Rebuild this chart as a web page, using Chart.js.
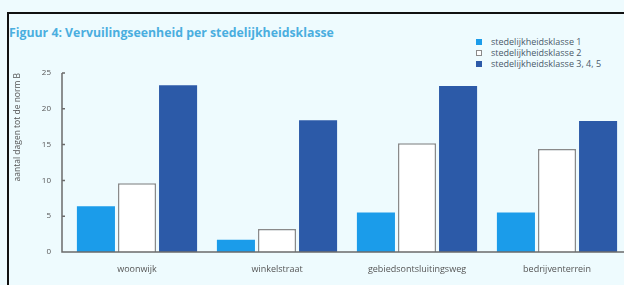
<!DOCTYPE html>
<html>
<head>
<meta charset="utf-8">
<script src="https://cdn.jsdelivr.net/npm/chart.js@4/dist/chart.umd.min.js"></script>
<style>
  html, body { margin: 0; padding: 0; width: 624px; height: 285px; overflow: hidden; background: #eefbfe; font-family: "Open Sans", "Noto Sans", sans-serif; }
  #frame { position: absolute; left: 7px; top: 12px; width: 700px; height: 400px; border-left: 2px solid #111; border-top: 2px solid #111; }
  #title { position: absolute; left: 9px; top: 24px; font-size: 12.3px; font-weight: bold; color: #4aaedf; white-space: nowrap; }
  #legend { position: absolute; left: 476px; top: 36px; font-size: 9px; color: #4a5a6a; }
  #legend div { height: 11px; line-height: 11px; white-space: nowrap; }
  #legend span { display: inline-block; width: 6px; height: 6px; margin-right: 9px; vertical-align: 0px; box-sizing: border-box; }
  #wrap { position: absolute; left: 0; top: 0; width: 640px; height: 285px; }
</style>
</head>
<body>
<div id="frame"></div>
<div id="title">Figuur 4: Vervuilingseenheid per stedelijkheidsklasse</div>
<div id="legend"></div>
<div id="wrap"><canvas id="chart"></canvas></div>
<script>
var categories = ['woonwijk', 'winkelstraat', 'gebiedsontsluitingsweg', 'bedrijventerrein'];
var seriesNames = ['stedelijkheidsklasse 1', 'stedelijkheidsklasse 2', 'stedelijkheidsklasse 3, 4, 5'];
var klasse1 = [6.4, 1.7, 5.5, 5.5];
var klasse2 = [9.6, 3.2, 15.2, 14.4];
var klasse345 = [23.3, 18.4, 23.2, 18.3];
var yTicks = [0, 5, 10, 15, 20, 25];

var fills = ['#1b9cea', '#ffffff', '#2c5aa8'];
var borders = ['#1b9cea', '#8a8a8a', '#2c5aa8'];

// legend
var legend = document.getElementById('legend');
seriesNames.forEach(function (name, i) {
    var row = document.createElement('div');
    var box = document.createElement('span');
    box.style.background = fills[i];
    box.style.border = '1px solid ' + borders[i];
    row.appendChild(box);
    row.appendChild(document.createTextNode(name));
    legend.appendChild(row);
});

// axis lines drawn slightly left of the plot, like the original
var axisLines = {
    id: 'axisLines',
    afterDatasetsDraw: function (chart) {
        var ctx = chart.ctx, a = chart.chartArea, y = chart.scales.y;
        var x0 = a.left - 5;
        ctx.save();
        ctx.strokeStyle = '#6b6b6b';
        ctx.lineWidth = 1.5;
        ctx.beginPath();
        ctx.moveTo(x0, a.top);
        ctx.lineTo(x0, a.bottom);
        ctx.lineTo(a.right + 20, a.bottom);
        yTicks.forEach(function (t) {
            var py = y.getPixelForValue(t);
            ctx.moveTo(x0, py);
            ctx.lineTo(x0 + 3, py);
        });
        ctx.stroke();
        ctx.restore();
    }
};

var ctx = document.getElementById('chart').getContext('2d');
var chart = new Chart(ctx, {
    type: 'bar',
    data: {
        labels: categories,
        datasets: [
            { label: seriesNames[0], data: klasse1, backgroundColor: fills[0], borderColor: borders[0], borderWidth: 0 },
            { label: seriesNames[1], data: klasse2, backgroundColor: fills[1], borderColor: borders[1], borderWidth: 1.5 },
            { label: seriesNames[2], data: klasse345, backgroundColor: fills[2], borderColor: borders[2], borderWidth: 0 }
        ]
    },
    options: {
        responsive: true,
        maintainAspectRatio: false,
        animation: false,
        categoryPercentage: 0.88,
        barPercentage: 0.927,
        layout: { padding: { top: 73, right: 13, left: 0, bottom: 0 } },
        plugins: {
            legend: { display: false },
            tooltip: { enabled: false }
        },
        scales: {
            x: {
                grid: { display: false, drawTicks: false },
                border: { display: false },
                ticks: { color: '#555', font: { family: 'Open Sans', size: 9 }, padding: 12, maxRotation: 0 },
                afterFit: function (s) { s.height = 33; }
            },
            y: {
                min: 0,
                max: 25,
                afterBuildTicks: function (s) { s.ticks = yTicks.map(function (v) { return { value: v }; }); },
                grid: { display: false, drawTicks: false },
                border: { display: false },
                ticks: { color: '#555', font: { family: 'Open Sans', size: 8 }, padding: 16 },
                title: {
                    display: true,
                    text: 'aantal dagen tot de norm B',
                    align: 'end',
                    color: '#555',
                    font: { family: 'Open Sans', size: 8.5 },
                    padding: { top: 12, bottom: 0 }
                },
                afterFit: function (s) { s.width = 67; }
            }
        }
    },
    plugins: [axisLines]
});
</script>
</body>
</html>
